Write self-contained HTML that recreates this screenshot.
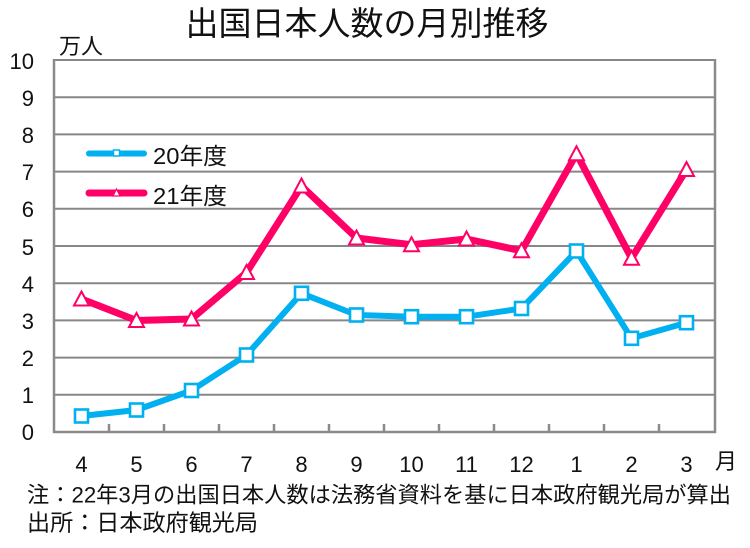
<!DOCTYPE html>
<html><head><meta charset="utf-8"><style>
html,body{margin:0;padding:0;background:#fff;}
svg{display:block;}
text{font-family:"Liberation Sans","Noto Sans CJK JP",sans-serif;fill:#111;}
</style></head><body>
<svg width="750" height="548" viewBox="0 0 750 548" xmlns="http://www.w3.org/2000/svg">
<rect width="750" height="548" fill="#fff"/>
<text x="367" y="35" font-size="33" text-anchor="middle">出国日本人数の月別推移</text>
<text x="59" y="54" font-size="22">万人</text>
<!-- gridlines -->
<g stroke="#878787" stroke-width="2">
<line x1="54" y1="60" x2="715" y2="60"/>
<line x1="54" y1="97.2" x2="715" y2="97.2"/>
<line x1="54" y1="134.4" x2="715" y2="134.4"/>
<line x1="54" y1="171.6" x2="715" y2="171.6"/>
<line x1="54" y1="208.8" x2="715" y2="208.8"/>
<line x1="54" y1="246" x2="715" y2="246"/>
<line x1="54" y1="283.2" x2="715" y2="283.2"/>
<line x1="54" y1="320.4" x2="715" y2="320.4"/>
<line x1="54" y1="357.6" x2="715" y2="357.6"/>
<line x1="54" y1="394.8" x2="715" y2="394.8"/>
</g>
<g stroke="#8a8a8a" stroke-width="2.5" fill="none">
<line x1="54" y1="59" x2="54" y2="433"/>
<line x1="715" y1="59" x2="715" y2="433"/>
<line x1="53" y1="432" x2="716" y2="432"/>
<line x1="109" y1="432" x2="109" y2="424"/>
<line x1="164" y1="432" x2="164" y2="424"/>
<line x1="219" y1="432" x2="219" y2="424"/>
<line x1="274" y1="432" x2="274" y2="424"/>
<line x1="329" y1="432" x2="329" y2="424"/>
<line x1="384" y1="432" x2="384" y2="424"/>
<line x1="439" y1="432" x2="439" y2="424"/>
<line x1="494" y1="432" x2="494" y2="424"/>
<line x1="549" y1="432" x2="549" y2="424"/>
<line x1="604" y1="432" x2="604" y2="424"/>
<line x1="659" y1="432" x2="659" y2="424"/>
</g>
<!-- y labels -->
<g font-size="22" text-anchor="end">
<text x="34" y="69">10</text>
<text x="34" y="106">9</text>
<text x="34" y="143">8</text>
<text x="34" y="180">7</text>
<text x="34" y="217">6</text>
<text x="34" y="255">5</text>
<text x="34" y="292">4</text>
<text x="34" y="329">3</text>
<text x="34" y="366">2</text>
<text x="34" y="403">1</text>
<text x="34" y="440">0</text>
</g>
<!-- x labels -->
<g font-size="22" text-anchor="middle">
<text x="81.5" y="472">4</text>
<text x="136.5" y="472">5</text>
<text x="191.5" y="472">6</text>
<text x="246.5" y="472">7</text>
<text x="301.5" y="472">8</text>
<text x="356.5" y="472">9</text>
<text x="411.5" y="472">10</text>
<text x="466.5" y="472">11</text>
<text x="521.5" y="472">12</text>
<text x="576.5" y="472">1</text>
<text x="631.5" y="472">2</text>
<text x="686.5" y="472">3</text>
</g>
<text x="715" y="469" font-size="22">月</text>
<!-- blue series -->
<polyline fill="none" stroke="#00b0f0" stroke-width="6" stroke-linejoin="round"
 points="81.5,416 136.5,410 191.5,390.5 246.5,355 301.5,293.3 356.5,315 411.5,316.7 466.5,316.7 521.5,308.5 576.5,251 631.5,338.3 686.5,322.7"/>
<g fill="#fff" stroke="#00b0f0" stroke-width="2.6">
<rect x="75" y="409.5" width="13" height="13"/>
<rect x="130" y="403.5" width="13" height="13"/>
<rect x="185" y="384" width="13" height="13"/>
<rect x="240" y="348.5" width="13" height="13"/>
<rect x="295" y="286.8" width="13" height="13"/>
<rect x="350" y="308.5" width="13" height="13"/>
<rect x="405" y="310.2" width="13" height="13"/>
<rect x="460" y="310.2" width="13" height="13"/>
<rect x="515" y="302" width="13" height="13"/>
<rect x="570" y="244.5" width="13" height="13"/>
<rect x="625" y="331.8" width="13" height="13"/>
<rect x="680" y="316.2" width="13" height="13"/>
</g>
<!-- red series -->
<polyline fill="none" stroke="#ff0066" stroke-width="7" stroke-linejoin="round"
 points="81.5,299 136.5,320.5 191.5,319 246.5,272.5 301.5,186 356.5,238 411.5,244.7 466.5,239 521.5,250.8 576.5,153.8 631.5,258.3 686.5,169.5"/>
<g fill="#fff" stroke="#ff0066" stroke-width="2">
<polygon points="81.5,291.5 89,305.5 74,305.5"/>
<polygon points="136.5,313 144,327 129,327"/>
<polygon points="191.5,311.5 199,325.5 184,325.5"/>
<polygon points="246.5,265 254,279 239,279"/>
<polygon points="301.5,178.5 309,192.5 294,192.5"/>
<polygon points="356.5,230.5 364,244.5 349,244.5"/>
<polygon points="411.5,237.2 419,251.2 404,251.2"/>
<polygon points="466.5,231.5 474,245.5 459,245.5"/>
<polygon points="521.5,243.3 529,257.3 514,257.3"/>
<polygon points="576.5,146.3 584,160.3 569,160.3"/>
<polygon points="631.5,250.8 639,264.8 624,264.8"/>
<polygon points="686.5,162 694,176 679,176"/>
</g>
<!-- legend -->
<line x1="89" y1="153.5" x2="144" y2="153.5" stroke="#00b0f0" stroke-width="6" stroke-linecap="round"/>
<rect x="113.5" y="150" width="6" height="6" fill="#fff" stroke="#00b0f0" stroke-width="1.5"/>
<text x="153" y="164" font-size="23" textLength="74" lengthAdjust="spacingAndGlyphs">20年度</text>
<line x1="89" y1="193" x2="144" y2="193" stroke="#ff0066" stroke-width="7" stroke-linecap="round"/>
<polygon points="116.5,189 120,196 113,196" fill="#fff" stroke="#ff0066" stroke-width="1.2"/>
<text x="153" y="204" font-size="23" textLength="74" lengthAdjust="spacingAndGlyphs">21年度</text>
<!-- footer -->
<text x="27" y="502.5" font-size="22" textLength="704" lengthAdjust="spacingAndGlyphs">注：22年3月の出国日本人数は法務省資料を基に日本政府観光局が算出</text>
<text x="27" y="530.5" font-size="23" textLength="231" lengthAdjust="spacingAndGlyphs">出所：日本政府観光局</text>
</svg>
</body></html>
